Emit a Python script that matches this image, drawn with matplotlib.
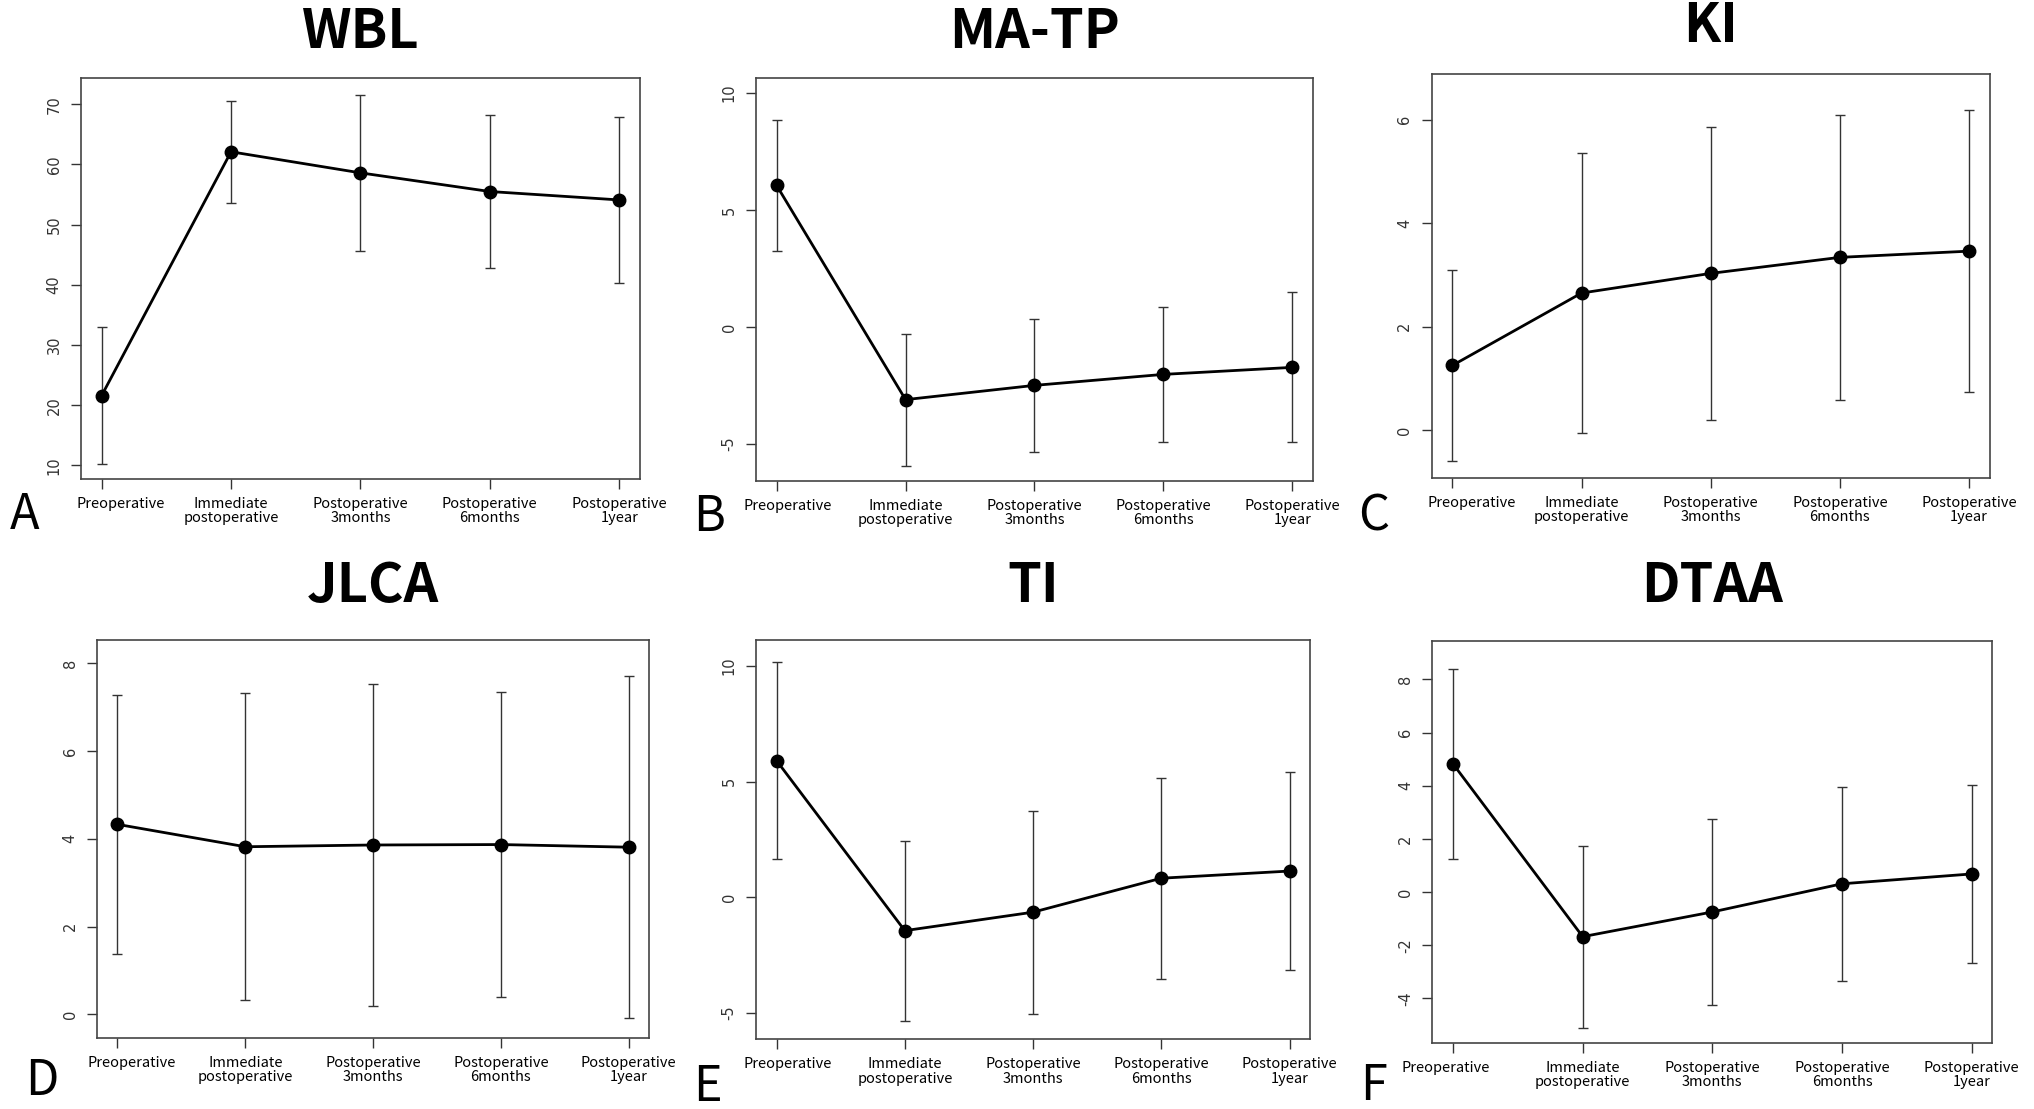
import matplotlib

matplotlib.use("Agg")
from matplotlib import pyplot as plt

plt.rcParams['font.family'] = ['Noto Sans CJK KR', 'DejaVu Sans']

# time points
x_labels = ["Preoperative", "Immediate\npostoperative", "Postoperative\n3months",
            "Postoperative\n6months", "Postoperative\n1year"]
x_pos = [1, 2, 3, 4, 5]

titles = ["WBL", "MA-TP", "KI", "JLCA", "TI", "DTAA"]
letters = ["A", "B", "C", "D", "E", "F"]

# means and standard deviations
wbl_mean = [21.6, 62.1, 58.6, 55.5, 54.1]
wbl_sd = [11.4, 8.45, 12.9, 12.7, 13.85]
matp_mean = [6.05, -3.11, -2.5, -2.03, -1.73]
matp_sd = [2.8, 2.82, 2.83, 2.9, 3.21]
ki_mean = [1.25, 2.65, 3.03, 3.34, 3.46]
ki_sd = [1.85, 2.71, 2.83, 2.76, 2.73]
jlca_mean = [4.33, 3.82, 3.86, 3.87, 3.81]
jlca_sd = [2.95, 3.5, 3.66, 3.48, 3.9]
ti_mean = [5.91, -1.45, -0.65, 0.82, 1.13]
ti_sd = [4.25, 3.89, 4.4, 4.35, 4.27]
dtaa_mean = [4.82, -1.68, -0.75, 0.31, 0.68]
dtaa_sd = [3.59, 3.42, 3.5, 3.65, 3.35]

means = [wbl_mean, matp_mean, ki_mean, jlca_mean, ti_mean, dtaa_mean]
sds = [wbl_sd, matp_sd, ki_sd, jlca_sd, ti_sd, dtaa_sd]

y_ticks = [[10, 20, 30, 40, 50, 60, 70], [-5, 0, 5, 10], [0, 2, 4, 6],
           [0, 2, 4, 6, 8], [-5, 0, 5, 10], [-4, -2, 0, 2, 4, 6, 8]]
y_limits = [(7.8, 74.4), (-6.58, 10.65), (-0.92, 6.88),
            (-0.53, 8.53), (-6.14, 11.13), (-5.67, 9.46)]

# axes rectangles (left, bottom, width, height) in figure fractions
rects = [(0.0398, 0.5684, 0.2748, 0.3615), (0.3717, 0.5665, 0.2738, 0.3632),
         (0.7039, 0.5693, 0.2743, 0.3637), (0.0477, 0.0643, 0.2714, 0.3586),
         (0.3717, 0.0631, 0.2724, 0.3598), (0.7042, 0.0598, 0.2753, 0.3625)]
title_y = [0.971, 0.971, 0.976, 0.471, 0.471, 0.471]
letter_xy = [(0.0049, 0.5356), (0.3407, 0.5338), (0.6677, 0.5338),
             (0.0123, 0.0252), (0.3407, 0.0200), (0.6686, 0.0207)]
# horizontal nudge (points) of the first category label, as in the source
first_label_dx = [14, 8, 14, 10, 8, -5]

fig = plt.figure(figsize=(20.34, 11.09), dpi=100)

for i in range(6):
    ax = fig.add_axes(rects[i])
    ax.errorbar(x_pos, means[i], yerr=sds[i], fmt='none', ecolor='#333333',
                elinewidth=1.0, capsize=3.8, capthick=1.0)
    ax.plot(x_pos, means[i], color='black', lw=2.0, marker='o', ms=9)
    ax.set_xlim(0.84, 5.16)
    ax.set_ylim(*y_limits[i])
    ax.set_xticks(x_pos)
    ax.set_xticklabels([])
    for j, lab in enumerate(x_labels):
        dx = first_label_dx[i] if j == 0 else 0
        ax.annotate(lab, (x_pos[j], 0), xycoords=('data', 'axes fraction'),
                    xytext=(dx, -13), textcoords='offset points',
                    ha='center', va='top', fontsize=10.5, linespacing=1.05)
    ax.set_yticks(y_ticks[i])
    ax.set_yticklabels([str(v) for v in y_ticks[i]], rotation=90, va='center',
                       fontsize=10.5, color='#333333', family='DejaVu Sans')
    ax.tick_params(axis='x', length=7, width=1, color='#333333')
    ax.tick_params(axis='y', length=7, width=1, color='#333333', pad=7)
    for sp in ax.spines.values():
        sp.set_color('#444444')
        sp.set_linewidth(1.2)
    l, b, w, h = rects[i]
    fig.text(l + w / 2, title_y[i], titles[i], ha='center', va='center',
             fontsize=39, fontweight='bold')
    fig.text(letter_xy[i][0], letter_xy[i][1], letters[i], ha='left', va='center',
             fontsize=35, fontweight='light')

plt.savefig("out.png")
plt.close()
